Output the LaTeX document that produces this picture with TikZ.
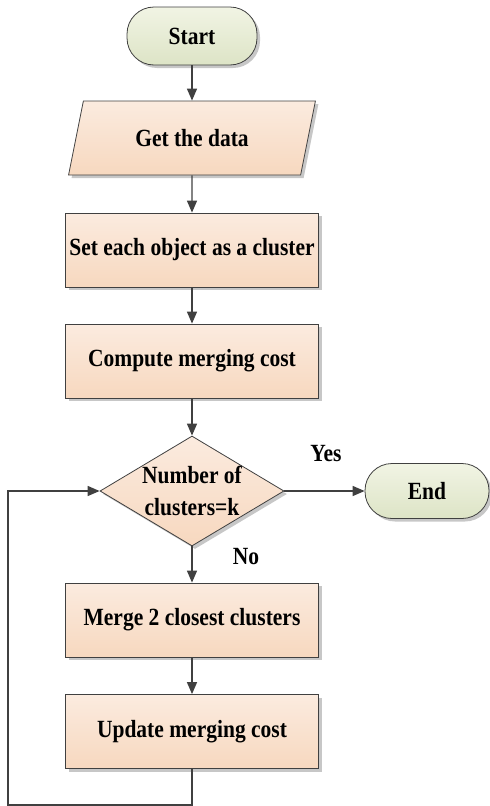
\documentclass[tikz,border=0pt]{standalone}
\usepackage{fontspec}
\usepackage{graphicx}
\setmainfont{Liberation Serif}
\usetikzlibrary{arrows.meta,shapes.geometric,shadows}

\definecolor{boxtop}{HTML}{FBEBDF}
\definecolor{boxbot}{HTML}{F7D8BF}
\definecolor{termtop}{HTML}{F1F4E4}
\definecolor{termbot}{HTML}{DDE4C6}
\definecolor{edge}{HTML}{404040}

% slightly taller lettering
\newcommand\tallword[1]{\scalebox{1}[1.15]{#1}}

\begin{document}
\begin{tikzpicture}[x=1pt,y=-1pt,
  font=\fontsize{21.5}{25}\selectfont\bfseries,
  softshadow/.style={drop shadow={shadow xshift=3pt,shadow yshift=-3pt,fill=black,opacity=.22}},
  procbox/.style={rectangle,draw=edge,line width=0.8pt,top color=boxtop,bottom color=boxbot,
    minimum width=253,minimum height=74,inner sep=0pt,softshadow},
  iobox/.style={trapezium,trapezium left angle=66,trapezium right angle=114,trapezium stretches=true,
    draw=edge,line width=0.8pt,top color=boxtop,bottom color=boxbot,
    minimum width=247,minimum height=74,inner sep=0pt,softshadow},
  termbox/.style={rectangle,rounded corners=27pt,draw=edge,line width=0.8pt,top color=termtop,bottom color=termbot,
    inner sep=0pt,softshadow},
  decbox/.style={diamond,draw=edge,line width=0.8pt,top color=boxtop,bottom color=boxbot,
    minimum width=184,minimum height=110,inner sep=0pt,softshadow},
  flow/.style={draw=edge,line width=1.4pt,-{Triangle[width=10pt,length=12pt]}}
]
\useasboundingbox (0,0) rectangle (490,806);

% process chain
\node[termbox,minimum width=130,minimum height=58] (start) at (192,36) {\tallword{Start}};
\node[iobox] (get) at (192,138) {\tallword{Get the data}};
\node[procbox] (set) at (192,250) {\tallword{Set each object as a cluster}};
\node[procbox] (cost) at (192,361) {\tallword{Compute merging cost}};
\node[decbox] (dec) at (192,491) {};
\node[align=center,inner sep=0pt,font=\fontsize{21.5}{32}\selectfont\bfseries] (dectext) at (192,491)
  {\tallword{Number of}\\\tallword{clusters=k}};
\node[termbox,minimum width=124,minimum height=55] (end) at (427,491) {\tallword{End}};
\node[procbox] (merge) at (192,620) {\tallword{Merge 2 closest clusters}};
\node[procbox] (upd) at (192,731.5) {\tallword{Update merging cost}};

% branch labels
\node (yes) at (326,454) {\tallword{Yes}};
\node (no) at (246,557) {\tallword{No}};

% connectors
\draw[flow] (start) -- (get);
\draw[flow] (get) -- (set);
\draw[flow] (set) -- (cost);
\draw[flow] (cost) -- (dec);
\draw[flow] (dec) -- (merge);
\draw[flow] (merge) -- (upd);
\draw[flow] (dec.east) -- (end.west);

% loop back to the decision
\coordinate (lb) at (8,805);
\draw[flow] (upd.south) |- (lb) |- (dec.west);
\end{tikzpicture}
\end{document}
